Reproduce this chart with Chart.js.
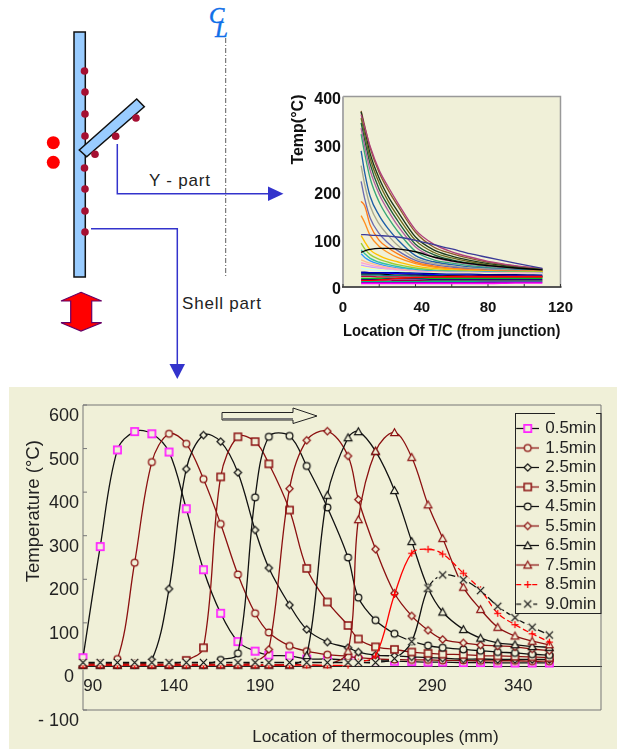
<!DOCTYPE html>
<html><head><meta charset="utf-8">
<style>
html,body{margin:0;padding:0;background:#fff;width:620px;height:749px;overflow:hidden}
#panel{position:absolute;left:9px;top:387px;width:608px;height:362px;background:#f0f0d8}
#diagram{position:absolute;left:0;top:0}
#c1{position:absolute;left:285px;top:85px}
#c2{position:absolute;left:9px;top:387px}
</style>
<script src="https://cdn.jsdelivr.net/npm/chart.js@4/dist/chart.umd.js"></script>
</head><body>
<div id="panel"></div>
<svg id="diagram" width="620" height="749" xmlns="http://www.w3.org/2000/svg" font-family="'Liberation Sans',Arial,sans-serif">
  <line x1="225.7" y1="38" x2="225.7" y2="277" stroke="#333" stroke-width="0.8" stroke-dasharray="5 2 1 2"/>
  <rect x="74" y="32" width="11.3" height="245" fill="#99ccff" stroke="#111" stroke-width="1.5"/>
  <polygon points="136.7,99 144.3,106.7 86.7,156.7 79.3,150" fill="#99ccff" stroke="#111" stroke-width="1.5"/>
  <g fill="#a50f32">
    <circle cx="84.5" cy="71" r="3.8"/><circle cx="85" cy="92" r="3.8"/><circle cx="85" cy="114" r="3.8"/><circle cx="85" cy="136" r="3.8"/>
    <circle cx="84.5" cy="168" r="3.8"/><circle cx="85" cy="189" r="3.8"/><circle cx="85" cy="211" r="3.8"/><circle cx="85" cy="232" r="3.8"/>
    <circle cx="136" cy="118" r="3.8"/><circle cx="115.7" cy="136.3" r="3.8"/><circle cx="95" cy="154.3" r="3.8"/>
  </g>
  <circle cx="53.3" cy="142.7" r="6.5" fill="#ff0000"/><circle cx="53.3" cy="162.3" r="6.5" fill="#ff0000"/>
  <polyline points="117.3,144 117.3,193.7 270,193.7" fill="none" stroke="#3333cc" stroke-width="1.5"/>
  <polygon points="283.5,193.7 268,186.5 268,201" fill="#3333cc"/>
  <polyline points="91,228.7 177.3,228.7 177.3,366" fill="none" stroke="#3333cc" stroke-width="1.5"/>
  <polygon points="177.3,379 169.5,364 185,364" fill="#3333cc"/>
  <polygon points="81,292.3 101.7,301 91.7,301 91.7,322.7 101.7,322.7 81,331 61,322.7 70.7,322.7 70.7,301 61,301" fill="#ff0000" stroke="#660066" stroke-width="1.2"/>
  <text x="149" y="186" font-size="17" letter-spacing="0.8" fill="#222">Y - part</text>
  <text x="182" y="309" font-size="17" letter-spacing="0.8" fill="#222">Shell part</text>
  <text x="209" y="23" font-size="23" font-style="italic" font-family="'Liberation Serif',serif" fill="#0f6fe8" stroke="#0f6fe8" stroke-width="0.5">C</text>
  <text x="215" y="37" font-size="23" font-style="italic" font-family="'Liberation Serif',serif" fill="#0f6fe8" stroke="#0f6fe8" stroke-width="0.5">L</text>
  <polygon points="222,412.5 293,412.5 293,408 317,416 293,423.5 293,420 222,420" fill="#f0f0d8" stroke="#222" stroke-width="1"/>
  <line x1="223" y1="419" x2="293" y2="419" stroke="#777" stroke-width="2"/>
</svg>
<canvas id="c1" width="300" height="260"></canvas>
<canvas id="c2" width="608" height="362"></canvas>
<script>
// ---- Y-part chart values ----
const yPartX = [10,12,15,20,25,30,40,50,60,70,80,95,110];
const yCurve01 = [370,338,292,240,203,172,115,84,70,60,52,44,38];
const yCurve02 = [368,330,280,228,190,160,105,78,65,56,49,42,37];
const yCurve03 = [362,335,295,245,210,178,120,90,74,63,54,45,38];
const yCurve04 = [355,320,270,218,180,150,98,73,61,53,47,41,37];
const yCurve05 = [345,308,258,205,170,140,90,68,57,50,45,40,36];
const yCurve06 = [334,295,245,195,160,130,84,63,54,48,43,38,36];
const yCurve07 = [321,280,228,178,145,118,75,57,50,45,41,37,36];
const yCurve08 = [286,240,190,150,122,100,66,53,47,42,39,36,35];
const yCurve09 = [255,215,170,132,108,88,60,50,44,40,38,35,34];
const yCurve10 = [222,185,145,112,92,77,56,47,42,38,36,34,34];
const yCurve11 = [180,170,130,98,82,70,52,44,39,37,35,33,33];
const yCurve12 = [150,135,108,85,72,62,49,42,38,36,34,33,33];
const yCurve13 = [110,110,109,108,107,105,98,89,80,70,62,50,39];
const yCurve14 = [73,76,79,81,81,80,74,63,55,49,45,40,36];
const yCurve15 = [108,95,78,66,58,53,44,39,36,34,33,32,32];
const yCurve16 = [92,80,68,58,52,47,40,36,34,33,32,31,31];
const yCurve17 = [78,70,60,52,47,43,37,34,33,32,31,31,30];
const yCurve18 = [70,62,55,48,43,40,35,33,32,31,31,30,30];
const yCurve19 = [57,54,50,45,41,38,34,32,31,31,30,30,29];
const yCurve20 = [51,49,46,42,39,36,33,31,30,30,29,29,28];
const yCurve21 = [46,44,42,39,36,34,32,30,30,29,29,28,28];
const yCurve22 = [42,41,39,37,35,33,31,30,29,29,28,27,27];
const yCurve23 = [39,38,37,35,34,32,30,29,28,27,27,26,26];
const yCurve24 = [31,31,30,30,30,30,29,28,27,27,26,26,25];
const yCurve25 = [29,29,29,29,29,28,27,26,25,25,24,24,23];
const yCurve26 = [27,27,27,27,26,25,25,24,24,23,23,22,22];
const yCurve27 = [25,25,25,25,24,24,23,23,22,22,21,21,21];
const yCurve28 = [14,14,14,15,16,18,20,21,22,22,22,22,22];
const yCurve29 = [22,22,22,21,21,21,20,20,20,20,20,20,20];
const yCurve30 = [18,18,18,18,18,18,18,18,18,18,18,18,18];
const yCurve31 = [16,16,16,16,17,17,17,16,16,16,16,16,16];
const yCurve32 = [13,13,13,13,13,14,14,14,14,14,14,14,14];
const yCurve33 = [11,11,11,11,11,11,11,12,12,12,12,12,12];
const yCurve34 = [9,9,9,9,9,9,9,9,9,9,10,10,10];
const yCurve35 = [7,7,7,7,7,7,7,7,7,7,7,8,8];
const yPartCurves = [yCurve01,yCurve02,yCurve03,yCurve04,yCurve05,yCurve06,yCurve07,yCurve08,yCurve09,yCurve10,yCurve11,yCurve12,yCurve15,yCurve16,yCurve17,yCurve18,yCurve19,yCurve20,yCurve21,yCurve22,yCurve23,yCurve24,yCurve25,yCurve26,yCurve27,yCurve29,yCurve30,yCurve31,yCurve32,yCurve33,yCurve34,yCurve35,yCurve28,yCurve14,yCurve13];
const yPartColors = ['#8b5a2b','#1c3a1c','#b0407a','#6b6b20','#1f5c3a','#b060a0','#3aa878','#1f5fa8','#a8a890','#6c6cb0','#ff7a1a','#ff9020','#ffc000','#9acd32','#30c0a0','#3399ff','#ffc090','#ffa0d0','#c8a0ff','#ffffa0','#c0ffff','#000080','#0000ff','#000000','#008080','#c00040','#00ff00','#000090','#a00040','#00c080','#a000c0','#ff00ff','#ff0000','#000000','#3b3b98'];

// ---- Shell-part chart values ----
const shellX = [90,100,110,120,130,140,150,160,170,180,190,198,210,220,232,244,250,260,271,281,290.5,299,311,321,331,341,351,361];
const t05 = [20,275,497,539,534,492,362,222,122,57,35,26,24,17,17,15,14,13,12,11,10,10,9,9,8,8,8,8];
const t15 = [5,5,17,238,469,534,511,430,327,211,122,78,47,35,27,23,20,17,16,15,15,14,14,13,13,13,12,12];
const t25 = [6,6,6,6,15,178,453,531,516,445,313,226,141,85,56,43,33,26,24,22,20,19,17,17,16,16,16,16];
const t35 = [5,5,5,5,5,5,14,43,435,527,516,465,359,225,148,94,63,45,39,33,30,28,27,25,24,23,22,20];
const t45 = [4,4,4,4,4,4,4,4,15,30,388,527,529,460,365,250,158,106,75,58,48,43,39,36,33,31,28,26];
const t55 = [5,5,5,5,5,5,5,5,5,5,10,39,408,519,540,483,383,269,168,116,83,62,54,49,47,45,40,36];
const t65 = [3,3,3,3,3,3,3,3,3,3,3,3,3,25,393,525,539,494,404,287,180,125,85,65,54,50,46,44];
const t75 = [4,4,4,4,4,4,4,4,4,4,4,4,4,4,4,35,337,494,537,480,371,294,182,131,90,70,58,50];
const t85 = [3,3,3,3,3,3,3,3,3,3,3,3,3,3,3,3,10,24,165,260,269,258,214,176,122,96,75,56];
const t90 = [9,9,9,9,9,9,9,9,9,9,9,9,9,9,9,9,9,9,18,57,180,210,199,174,138,112,90,72];
const shellNames = ['0.5min','1.5min','2.5min','3.5min','4.5min','5.5min','6.5min','7.5min','8.5min','9.0min'];
const shellValues = [t05,t15,t25,t35,t45,t55,t65,t75,t85,t90];
const shellLineColors = ['#111111','#8b1010','#111111','#8b1010','#111111','#8b1010','#111111','#8b1010','#ff0000','#111111'];
const shellMarkColors = ['#ff22ff','#8b1010','#111111','#8b1010','#111111','#8b1010','#111111','#8b1010','#ff0000','#111111'];
const shellMarks = ['square','circle','diamond','square','circle','diamond','triangle','triangle','plus','cross'];
const shellTicksX = [90,140,190,240,290,340];
const panelBg = '#f0f0d8';
const fontFam = "'Liberation Sans',Arial,sans-serif";

function drawMark(g,kind,color,cx,cy){
  g.strokeStyle=color; g.fillStyle=panelBg; g.lineWidth=1.25;
  g.beginPath();
  if(kind==='square'){
    g.lineWidth=color==='#ff22ff'?1.7:1.5;
    g.rect(cx-3.6,cy-3.6,7.2,7.2); g.fill(); g.stroke();
  } else if(kind==='circle'){
    g.arc(cx,cy,3.4,0,Math.PI*2); g.fill(); g.stroke();
  } else if(kind==='diamond'){
    g.moveTo(cx,cy-3.6);g.lineTo(cx+3.6,cy);g.lineTo(cx,cy+3.6);g.lineTo(cx-3.6,cy);g.closePath(); g.fill(); g.stroke();
  } else if(kind==='triangle'){
    g.moveTo(cx,cy-3.8);g.lineTo(cx+3.8,cy+3);g.lineTo(cx-3.8,cy+3);g.closePath(); g.fill(); g.stroke();
  } else if(kind==='plus'){
    g.moveTo(cx-3.6,cy);g.lineTo(cx+3.6,cy);g.moveTo(cx,cy-3.6);g.lineTo(cx,cy+3.6); g.stroke();
  } else if(kind==='cross'){
    g.fillRect(cx-5.5,cy-3,11,6);
    g.moveTo(cx-3.6,cy-3.6);g.lineTo(cx+3.6,cy+3.6);g.moveTo(cx+3.6,cy-3.6);g.lineTo(cx-3.6,cy+3.6); g.stroke();
  }
}
function markCanvas(i){
  const c=document.createElement('canvas'); c.width=13; c.height=13;
  drawMark(c.getContext('2d'),shellMarks[i],shellMarkColors[i],6.5,6.5);
  return c;
}
function legendCanvas(i){
  const c=document.createElement('canvas'); c.width=23; c.height=13;
  const g=c.getContext('2d');
  g.strokeStyle=shellLineColors[i]; g.lineWidth=1.25;
  if(i>=8) g.setLineDash([5,3,5,3]);
  g.beginPath(); g.moveTo(0,6.5); g.lineTo(23,6.5); g.stroke(); g.setLineDash([]);
  drawMark(g,shellMarks[i],shellMarkColors[i],11.5,6.5);
  return c;
}

// inward tick marks and frame for the two charts
const frameTop = {id:'frameTop',
  beforeDatasetsDraw(ch){
    const {ctx,chartArea:a,scales:s}=ch;
    ctx.save();
    ctx.fillStyle=panelBg; ctx.fillRect(a.left,a.top,a.width,a.height);
    ctx.strokeStyle='#999'; ctx.lineWidth=1.5;
    ctx.beginPath(); ctx.moveTo(a.left,a.top); ctx.lineTo(a.right,a.top); ctx.lineTo(a.right,a.bottom); ctx.stroke();
    ctx.lineWidth=2; ctx.strokeStyle='#aaa';
    ctx.beginPath(); ctx.moveTo(a.left,a.top); ctx.lineTo(a.left,a.bottom); ctx.stroke();
    ctx.lineWidth=2; ctx.strokeStyle='#555';
    ctx.beginPath(); ctx.moveTo(a.left-1,a.bottom); ctx.lineTo(a.right+1,a.bottom); ctx.stroke();
    ctx.lineWidth=1; ctx.strokeStyle='#333';
    s.x.ticks.forEach(t=>{const p=s.x.getPixelForValue(t.value);
      ctx.beginPath();ctx.moveTo(p,a.bottom);ctx.lineTo(p,a.bottom-3);ctx.stroke();});
    ctx.restore();
  }};
const frameShell = {id:'frameShell',
  afterLayout(ch){
    const l=ch.legend; l.left=507.2; l.right=592; l.top=30.5; l.bottom=228;
  },
  beforeDatasetsDraw(ch){
    const {ctx,chartArea:a,scales:s}=ch;
    ctx.save();
    ctx.strokeStyle='#777'; ctx.lineWidth=1;
    ctx.beginPath();
    ctx.moveTo(a.left,s.y.getPixelForValue(12)); ctx.lineTo(a.left,a.top); ctx.lineTo(a.right,a.top); ctx.lineTo(a.right,a.bottom); ctx.lineTo(a.left,a.bottom); ctx.lineTo(a.left,s.y.getPixelForValue(-8));
    ctx.stroke();
    s.y.ticks.forEach(t=>{const p=s.y.getPixelForValue(t.value); if(t.value===0)return;
      ctx.beginPath();ctx.moveTo(a.left,p);ctx.lineTo(a.left+4,p);ctx.stroke();});
    ctx.strokeStyle='#222';
    ctx.strokeRect(506.5,26.5,85.5,200);
    ctx.strokeStyle=panelBg; ctx.lineWidth=1.5;
    ctx.beginPath();ctx.moveTo(546,26.5);ctx.lineTo(587,26.5);ctx.stroke();
    ctx.restore();
  }};

new Chart(document.getElementById('c1'),{
  type:'line',
  plugins:[frameTop],
  data:{datasets:yPartCurves.map((v,i)=>({
    label:'Curve '+(i+1),
    data:v.map((y,k)=>({x:yPartX[k],y:y})),
    borderColor:yPartColors[i],borderWidth:1.35,pointRadius:0,cubicInterpolationMode:'monotone',
    order:yPartCurves.length-i
  }))},
  options:{responsive:false,animation:false,devicePixelRatio:1,
    layout:{padding:{top:10,right:22,left:0,bottom:0}},
    plugins:{legend:{display:false},tooltip:{enabled:false}},
    scales:{
      x:{type:'linear',min:0,max:120,
        grid:{display:false,drawTicks:false},border:{display:false},
        afterBuildTicks(s){s.ticks=[0,20,40,60,80,100,120].map(v=>({value:v}));},
        afterFit(s){s.height=58;},
        ticks:{autoSkip:false,maxRotation:0,padding:12,color:'#111',font:{family:fontFam,size:15,weight:'bold'},
          callback:v=>(v===40?'\u00a0\u00a0\u00a040':(v%40===0?String(v):''))},
        title:{display:true,text:'Location Of T/C (from junction)',color:'#111',font:{family:fontFam,size:16,weight:'bold'},padding:{top:0,bottom:4}}
      },
      y:{type:'linear',min:0,max:400,
        grid:{display:false,drawTicks:false},border:{display:false},
        afterFit(s){s.width=58;},
        ticks:{stepSize:100,padding:2,labelOffset:3,color:'#111',font:{family:fontFam,size:16,weight:'bold'}},
        title:{display:true,text:'\u00a0'.repeat(28)+'Temp(\u00b0C)',color:'#111',font:{family:fontFam,size:16,weight:'bold'},padding:{top:4,bottom:0}}
      }
    }
  }
});

const markImgs = shellNames.map((n,i)=>markCanvas(i));
const legendImgs = shellNames.map((n,i)=>legendCanvas(i));
new Chart(document.getElementById('c2'),{
  type:'line',
  plugins:[frameShell],
  data:{datasets:shellValues.map((v,i)=>({
    label:shellNames[i],
    data:v.map((y,k)=>({x:shellX[k],y:y})),
    borderColor:shellLineColors[i],borderWidth:1.3,tension:0.35,
    pointStyle:markImgs[i],pointRadius:4,pointHoverRadius:4,
    clip:false,order:shellNames.length-i,
    segment:i===8?{borderDash:c=>c.p0DataIndex>=19?[6,3]:undefined}:(i===9?{borderDash:c=>c.p0DataIndex>=20?[9,3]:undefined}:undefined)
  }))},
  options:{responsive:false,animation:false,devicePixelRatio:1,
    layout:{padding:{top:18,right:16,bottom:39,left:0}},
    plugins:{tooltip:{enabled:false},
      legend:{display:true,position:'chartArea',align:'start',
        labels:{usePointStyle:true,pointStyleWidth:18,padding:2.5,color:'#222',font:{family:fontFam,size:17},
          generateLabels:ch=>ch.data.datasets.map((d,i)=>({text:d.label,pointStyle:legendImgs[i],fontColor:'#222',datasetIndex:i,lineWidth:0,strokeStyle:'transparent',fillStyle:'transparent'}))
        }}},
    scales:{
      x:{type:'linear',min:90,max:391,position:{y:0},
        grid:{display:false,drawTicks:false},border:{display:true,color:'#222',width:1},
        afterBuildTicks(s){s.ticks=shellTicksX.map(v=>({value:v}));},
        afterFit(s){s.height=81;},
        ticks:{autoSkip:false,maxRotation:0,padding:10,labelOffset:5,color:'#222',font:{family:fontFam,size:17},
          callback:v=>(v===90?'\u00a0\u00a090':String(v))},
        title:{display:true,text:'\u00a0'.repeat(14)+'Location of thermocouples (mm)',color:'#222',font:{family:fontFam,size:17.2},padding:{top:0,bottom:0}}
      },
      y:{type:'linear',min:-100,max:600,
        grid:{display:false,drawTicks:false},border:{display:false},
        afterFit(s){s.width=74;},
        ticks:{stepSize:100,padding:4,labelOffset:11,color:'#222',font:{family:fontFam,size:18},
          callback:v=>(v<0?'- '+Math.abs(v):(v===0?'0\u00a0':String(v)))},
        title:{display:true,text:'\u00a0'.repeat(18)+'Temperature (\u00b0C)',color:'#222',font:{family:fontFam,size:18.5},padding:{top:14,bottom:0}}
      }
    }
  }
});
</script>
</body></html>
